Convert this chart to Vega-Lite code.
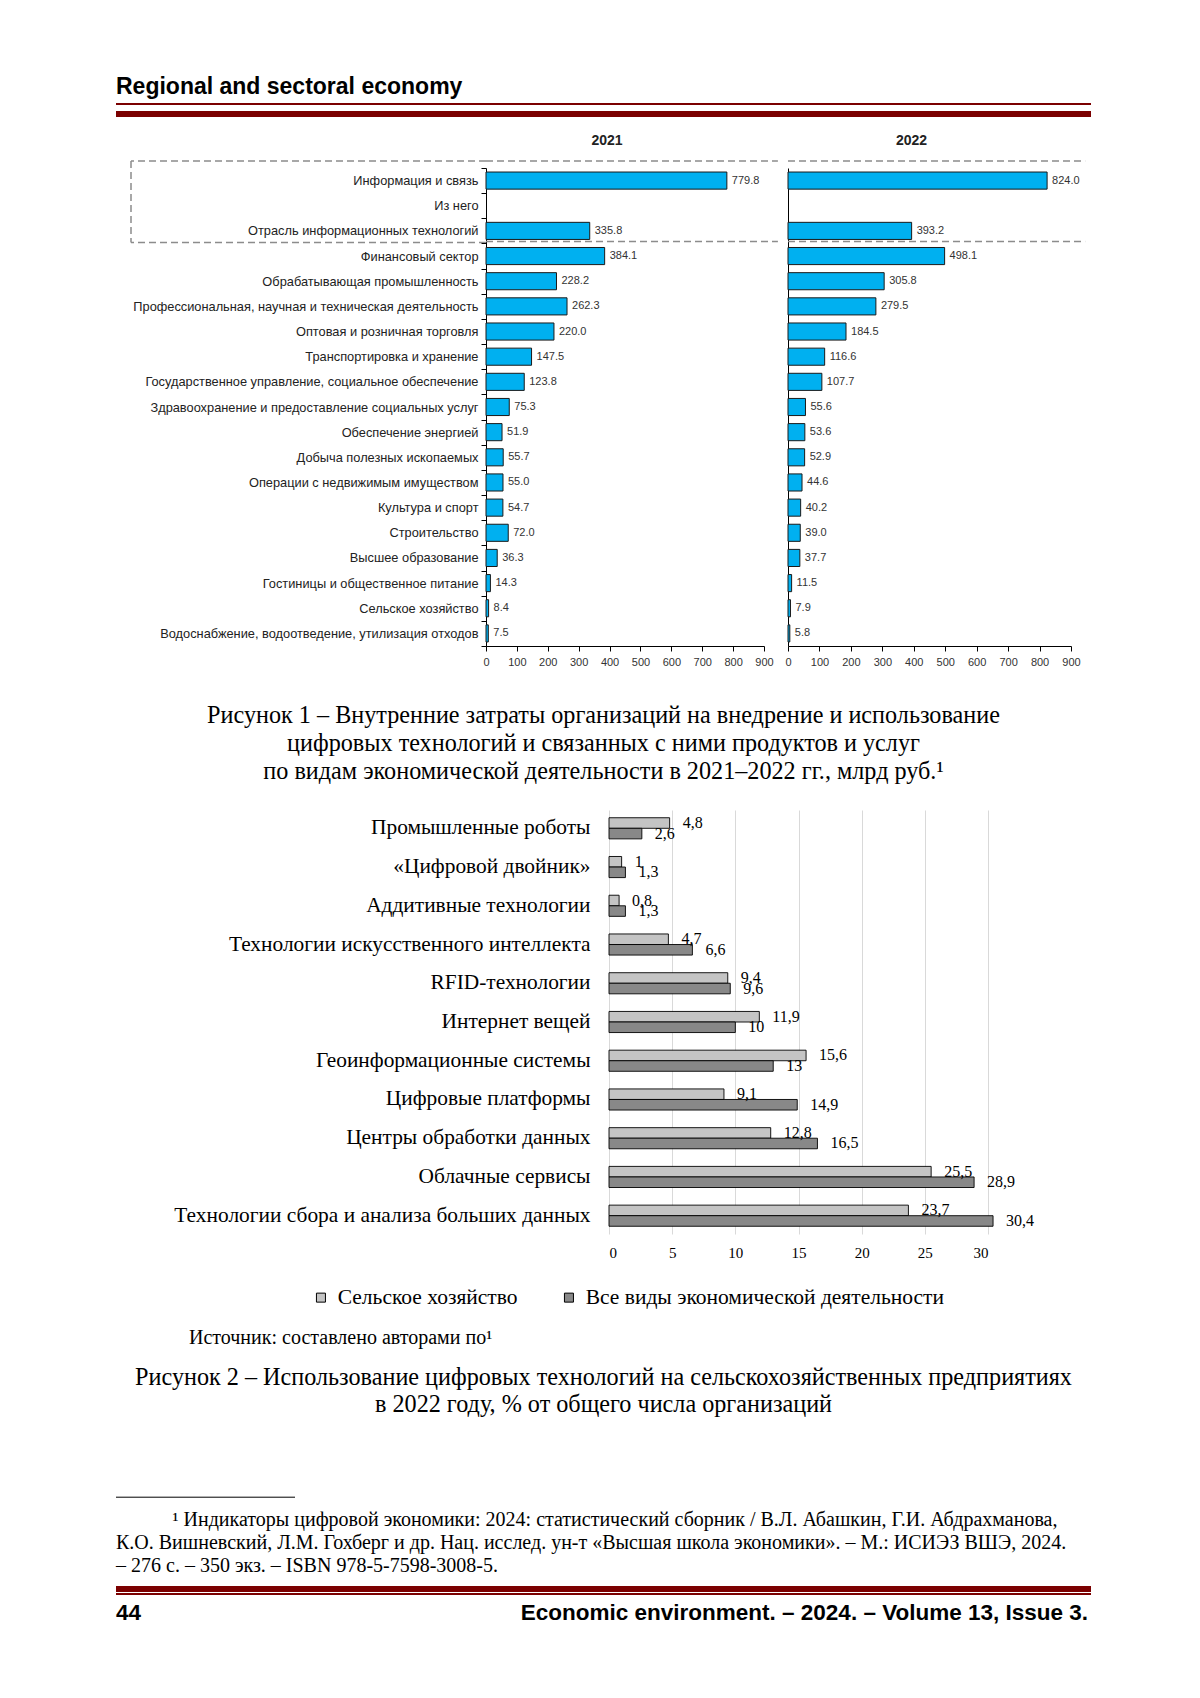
{
  "$schema": "https://vega.github.io/schema/vega-lite/v6.json",
  "padding": {"left": 113, "top": 76, "right": 112, "bottom": 20},
  "background": "white",
  "spacing": 0,
  "resolve": {"legend": {"fill": "independent", "strokeWidth": "independent"}, "scale": {"fill": "independent", "strokeWidth": "independent"}},
  "config": {"view": {"stroke": null}, "axis": {"labelOverlap": false}},
  "datasets": {
    "c1": [
      {"sector": "Информация и связь", "year": "2021", "value": 779.8},
      {"sector": "Информация и связь", "year": "2022", "value": 824.0},
      {"sector": "Отрасль информационных технологий", "year": "2021", "value": 335.8},
      {"sector": "Отрасль информационных технологий", "year": "2022", "value": 393.2},
      {"sector": "Финансовый сектор", "year": "2021", "value": 384.1},
      {"sector": "Финансовый сектор", "year": "2022", "value": 498.1},
      {"sector": "Обрабатывающая промышленность", "year": "2021", "value": 228.2},
      {"sector": "Обрабатывающая промышленность", "year": "2022", "value": 305.8},
      {"sector": "Профессиональная, научная и техническая деятельность", "year": "2021", "value": 262.3},
      {"sector": "Профессиональная, научная и техническая деятельность", "year": "2022", "value": 279.5},
      {"sector": "Оптовая и розничная торговля", "year": "2021", "value": 220.0},
      {"sector": "Оптовая и розничная торговля", "year": "2022", "value": 184.5},
      {"sector": "Транспортировка и хранение", "year": "2021", "value": 147.5},
      {"sector": "Транспортировка и хранение", "year": "2022", "value": 116.6},
      {"sector": "Государственное управление, социальное обеспечение", "year": "2021", "value": 123.8},
      {"sector": "Государственное управление, социальное обеспечение", "year": "2022", "value": 107.7},
      {"sector": "Здравоохранение и предоставление социальных услуг", "year": "2021", "value": 75.3},
      {"sector": "Здравоохранение и предоставление социальных услуг", "year": "2022", "value": 55.6},
      {"sector": "Обеспечение энергией", "year": "2021", "value": 51.9},
      {"sector": "Обеспечение энергией", "year": "2022", "value": 53.6},
      {"sector": "Добыча полезных ископаемых", "year": "2021", "value": 55.7},
      {"sector": "Добыча полезных ископаемых", "year": "2022", "value": 52.9},
      {"sector": "Операции с недвижимым имуществом", "year": "2021", "value": 55.0},
      {"sector": "Операции с недвижимым имуществом", "year": "2022", "value": 44.6},
      {"sector": "Культура и спорт", "year": "2021", "value": 54.7},
      {"sector": "Культура и спорт", "year": "2022", "value": 40.2},
      {"sector": "Строительство", "year": "2021", "value": 72.0},
      {"sector": "Строительство", "year": "2022", "value": 39.0},
      {"sector": "Высшее образование", "year": "2021", "value": 36.3},
      {"sector": "Высшее образование", "year": "2022", "value": 37.7},
      {"sector": "Гостиницы и общественное питание", "year": "2021", "value": 14.3},
      {"sector": "Гостиницы и общественное питание", "year": "2022", "value": 11.5},
      {"sector": "Сельское хозяйство", "year": "2021", "value": 8.4},
      {"sector": "Сельское хозяйство", "year": "2022", "value": 7.9},
      {"sector": "Водоснабжение, водоотведение, утилизация отходов", "year": "2021", "value": 7.5},
      {"sector": "Водоснабжение, водоотведение, утилизация отходов", "year": "2022", "value": 5.8}
    ],
    "c2": [
      {"tech": "Промышленные роботы", "group": "Сельское хозяйство", "v": 4.8},
      {"tech": "Промышленные роботы", "group": "Все виды экономической деятельности", "v": 2.6},
      {"tech": "«Цифровой двойник»", "group": "Сельское хозяйство", "v": 1},
      {"tech": "«Цифровой двойник»", "group": "Все виды экономической деятельности", "v": 1.3},
      {"tech": "Аддитивные технологии", "group": "Сельское хозяйство", "v": 0.8},
      {"tech": "Аддитивные технологии", "group": "Все виды экономической деятельности", "v": 1.3},
      {"tech": "Технологии искусственного интеллекта", "group": "Сельское хозяйство", "v": 4.7},
      {"tech": "Технологии искусственного интеллекта", "group": "Все виды экономической деятельности", "v": 6.6},
      {"tech": "RFID-технологии", "group": "Сельское хозяйство", "v": 9.4},
      {"tech": "RFID-технологии", "group": "Все виды экономической деятельности", "v": 9.6},
      {"tech": "Интернет вещей", "group": "Сельское хозяйство", "v": 11.9},
      {"tech": "Интернет вещей", "group": "Все виды экономической деятельности", "v": 10},
      {"tech": "Геоинформационные системы", "group": "Сельское хозяйство", "v": 15.6},
      {"tech": "Геоинформационные системы", "group": "Все виды экономической деятельности", "v": 13},
      {"tech": "Цифровые платформы", "group": "Сельское хозяйство", "v": 9.1},
      {"tech": "Цифровые платформы", "group": "Все виды экономической деятельности", "v": 14.9},
      {"tech": "Центры обработки данных", "group": "Сельское хозяйство", "v": 12.8},
      {"tech": "Центры обработки данных", "group": "Все виды экономической деятельности", "v": 16.5},
      {"tech": "Облачные сервисы", "group": "Сельское хозяйство", "v": 25.5},
      {"tech": "Облачные сервисы", "group": "Все виды экономической деятельности", "v": 28.9},
      {"tech": "Технологии сбора и анализа больших данных", "group": "Сельское хозяйство", "v": 23.7},
      {"tech": "Технологии сбора и анализа больших данных", "group": "Все виды экономической деятельности", "v": 30.4}
    ]
  },
  "vconcat": [
    {
      "width": 975, "height": 27,
      "data": {"values": [{"t": "Regional and sectoral economy"}]},
      "mark": {"type": "text", "align": "left", "baseline": "top", "font": "Liberation Sans", "fontWeight": "bold", "fontSize": 23, "color": "#000"},
      "encoding": {
        "text": {"field": "t"},
        "x": {"datum": 0, "type": "quantitative", "scale": {"domain": [0, 1]}, "axis": null},
        "y": {"datum": 1, "type": "quantitative", "scale": {"domain": [0, 1]}, "axis": null}
      }
    },
    {
      "width": 975, "height": 30,
      "data": {"values": [{"line": "thin"}, {"line": "thick"}]},
      "mark": {"type": "rule", "color": "#7b0000"},
      "encoding": {
        "y": {"field": "line", "type": "nominal", "scale": {"type": "point", "domain": ["thin", "thick"], "padding": 2.5, "align": 0}, "axis": null},
        "strokeWidth": {"field": "line", "type": "nominal", "scale": {"domain": ["thin", "thick"], "range": [2, 6]}, "legend": null}
      }
    },
    {
      "spacing": 0,
      "bounds": "flush",
      "hconcat": [
        {
          "width": 15, "height": 1,
          "data": {"values": []},
          "mark": "point",
          "encoding": {}
        },
        {
          "width": 355, "height": 535.5,
          "data": {"values": [{}]},
          "layer": [
            {
              "mark": {"type": "rule", "color": "#8c8c8c", "strokeDash": [7, 4], "strokeWidth": 1.5, "yOffset": -7},
              "encoding": {
                "y": {"datum": "Информация и связь", "type": "nominal", "bandPosition": 0,
                  "scale": {"type": "band", "domain": ["Информация и связь", "Из него", "Отрасль информационных технологий", "Финансовый сектор", "Обрабатывающая промышленность", "Профессиональная, научная и техническая деятельность", "Оптовая и розничная торговля", "Транспортировка и хранение", "Государственное управление, социальное обеспечение", "Здравоохранение и предоставление социальных услуг", "Обеспечение энергией", "Добыча полезных ископаемых", "Операции с недвижимым имуществом", "Культура и спорт", "Строительство", "Высшее образование", "Гостиницы и общественное питание", "Сельское хозяйство", "Водоснабжение, водоотведение, утилизация отходов"], "paddingInner": 0, "paddingOuter": 1.143, "align": 0},
                  "axis": null}
              }
            },
            {
              "mark": {"type": "rule", "color": "#8c8c8c", "strokeDash": [7, 4], "strokeWidth": 1.5, "yOffset": -2},
              "encoding": {
                "y": {"datum": "Финансовый сектор", "type": "nominal", "bandPosition": 0, "axis": null}
              }
            },
            {
              "mark": {"type": "rule", "color": "#8c8c8c", "strokeDash": [7, 4], "strokeWidth": 1.5, "yOffset": -7, "y2Offset": -2},
              "encoding": {
                "x": {"datum": 0, "type": "quantitative", "scale": {"domain": [0, 1]}, "axis": null},
                "y": {"datum": "Информация и связь", "type": "nominal", "bandPosition": 0, "axis": null},
                "y2": {"datum": "Финансовый сектор", "bandPosition": 0}
              }
            }
          ]
        },
        {
          "width": 278, "height": 478,
          "title": {"text": "2021", "font": "Liberation Sans", "fontSize": 14, "fontWeight": "bold", "color": "#222", "anchor": "middle", "dx": -18, "offset": 1, "baseline": "alphabetic"},
          "layer": [
            {
              "data": {"name": "c1"},
              "transform": [{"filter": "datum.year == '2021'"}],
              "mark": {"type": "bar", "fill": "#00b0f0", "stroke": "#1a1a1a", "strokeWidth": 1, "height": {"band": 0.68}},
              "encoding": {
                "y": {"field": "sector", "type": "nominal",
                  "scale": {"type": "band", "domain": ["Информация и связь", "Из него", "Отрасль информационных технологий", "Финансовый сектор", "Обрабатывающая промышленность", "Профессиональная, научная и техническая деятельность", "Оптовая и розничная торговля", "Транспортировка и хранение", "Государственное управление, социальное обеспечение", "Здравоохранение и предоставление социальных услуг", "Обеспечение энергией", "Добыча полезных ископаемых", "Операции с недвижимым имуществом", "Культура и спорт", "Строительство", "Высшее образование", "Гостиницы и общественное питание", "Сельское хозяйство", "Водоснабжение, водоотведение, утилизация отходов"], "paddingInner": 0, "paddingOuter": 0},
                  "axis": {"title": null, "labelFont": "Liberation Sans", "labelFontSize": 12.8, "labelColor": "#222", "tickBand": "extent", "tickSize": 5, "tickColor": "#000", "domainColor": "#000", "labelPadding": 3, "labelLimit": 500}},
                "x": {"field": "value", "type": "quantitative",
                  "scale": {"domain": [0, 900], "nice": false},
                  "axis": {"title": null, "values": [0, 100, 200, 300, 400, 500, 600, 700, 800, 900], "labelOverlap": false, "labelFlush": false, "grid": false, "tickSize": 5, "tickColor": "#000", "domainColor": "#000", "labelFont": "Liberation Sans", "labelFontSize": 11, "labelColor": "#333", "labelPadding": 5}}
              }
            },
            {
              "data": {"name": "c1"},
              "transform": [{"filter": "datum.year == '2021'"}],
              "mark": {"type": "text", "align": "left", "baseline": "middle", "dx": 5, "font": "Liberation Sans", "fontSize": 11, "color": "#333"},
              "encoding": {
                "y": {"field": "sector", "type": "nominal"},
                "x": {"field": "value", "type": "quantitative",
                  "axis": {"title": null, "values": [0, 100, 200, 300, 400, 500, 600, 700, 800, 900], "labelOverlap": false, "labelFlush": false, "grid": false, "tickSize": 5, "tickColor": "#000", "domainColor": "#000", "labelFont": "Liberation Sans", "labelFontSize": 11, "labelColor": "#333", "labelPadding": 5}},
                "text": {"field": "value", "type": "quantitative", "format": ".1f"}
              }
            },
            {
              "data": {"values": [{}]},
              "mark": {"type": "rule", "color": "#8c8c8c", "strokeDash": [7, 4], "strokeWidth": 1.5, "yOffset": -7},
              "encoding": {
                "y": {"datum": "Информация и связь", "type": "nominal", "bandPosition": 0},
                "x": {"datum": 0, "type": "quantitative",
                  "axis": {"title": null, "values": [0, 100, 200, 300, 400, 500, 600, 700, 800, 900], "labelOverlap": false, "labelFlush": false, "grid": false, "tickSize": 5, "tickColor": "#000", "domainColor": "#000", "labelFont": "Liberation Sans", "labelFontSize": 11, "labelColor": "#333", "labelPadding": 5}},
                "x2": {"datum": 945}
              }
            },
            {
              "data": {"values": [{}]},
              "mark": {"type": "rule", "color": "#8c8c8c", "strokeDash": [7, 4], "strokeWidth": 1.5, "yOffset": -2},
              "encoding": {
                "y": {"datum": "Финансовый сектор", "type": "nominal", "bandPosition": 0},
                "x": {"datum": 0, "type": "quantitative",
                  "axis": {"title": null, "values": [0, 100, 200, 300, 400, 500, 600, 700, 800, 900], "labelOverlap": false, "labelFlush": false, "grid": false, "tickSize": 5, "tickColor": "#000", "domainColor": "#000", "labelFont": "Liberation Sans", "labelFontSize": 11, "labelColor": "#333", "labelPadding": 5}},
                "x2": {"datum": 945}
              }
            }
          ]
        },
        {
          "width": 24, "height": 1,
          "data": {"values": []},
          "mark": "point",
          "encoding": {}
        },
        {
          "width": 283, "height": 478,
          "title": {"text": "2022", "font": "Liberation Sans", "fontSize": 14, "fontWeight": "bold", "color": "#222", "anchor": "middle", "dx": -18, "offset": 1, "baseline": "alphabetic"},
          "layer": [
            {
              "data": {"name": "c1"},
              "transform": [{"filter": "datum.year == '2022'"}],
              "mark": {"type": "bar", "fill": "#00b0f0", "stroke": "#1a1a1a", "strokeWidth": 1, "height": {"band": 0.68}},
              "encoding": {
                "y": {"field": "sector", "type": "nominal",
                  "scale": {"type": "band", "domain": ["Информация и связь", "Из него", "Отрасль информационных технологий", "Финансовый сектор", "Обрабатывающая промышленность", "Профессиональная, научная и техническая деятельность", "Оптовая и розничная торговля", "Транспортировка и хранение", "Государственное управление, социальное обеспечение", "Здравоохранение и предоставление социальных услуг", "Обеспечение энергией", "Добыча полезных ископаемых", "Операции с недвижимым имуществом", "Культура и спорт", "Строительство", "Высшее образование", "Гостиницы и общественное питание", "Сельское хозяйство", "Водоснабжение, водоотведение, утилизация отходов"], "paddingInner": 0, "paddingOuter": 0},
                  "axis": {"title": null, "labels": false, "ticks": false, "domainColor": "#000"}},
                "x": {"field": "value", "type": "quantitative",
                  "scale": {"domain": [0, 900], "nice": false},
                  "axis": {"title": null, "values": [0, 100, 200, 300, 400, 500, 600, 700, 800, 900], "labelOverlap": false, "labelFlush": false, "grid": false, "tickSize": 5, "tickColor": "#000", "domainColor": "#000", "labelFont": "Liberation Sans", "labelFontSize": 11, "labelColor": "#333", "labelPadding": 5}}
              }
            },
            {
              "data": {"name": "c1"},
              "transform": [{"filter": "datum.year == '2022'"}],
              "mark": {"type": "text", "align": "left", "baseline": "middle", "dx": 5, "font": "Liberation Sans", "fontSize": 11, "color": "#333"},
              "encoding": {
                "y": {"field": "sector", "type": "nominal", "axis": {"title": null, "labels": false, "ticks": false, "domainColor": "#000"}},
                "x": {"field": "value", "type": "quantitative",
                  "axis": {"title": null, "values": [0, 100, 200, 300, 400, 500, 600, 700, 800, 900], "labelOverlap": false, "labelFlush": false, "grid": false, "tickSize": 5, "tickColor": "#000", "domainColor": "#000", "labelFont": "Liberation Sans", "labelFontSize": 11, "labelColor": "#333", "labelPadding": 5}},
                "text": {"field": "value", "type": "quantitative", "format": ".1f"}
              }
            },
            {
              "data": {"values": [{}]},
              "mark": {"type": "rule", "color": "#8c8c8c", "strokeDash": [7, 4], "strokeWidth": 1.5, "yOffset": -7},
              "encoding": {
                "y": {"datum": "Информация и связь", "type": "nominal", "bandPosition": 0, "axis": {"title": null, "labels": false, "ticks": false, "domainColor": "#000"}},
                "x": {"datum": 0, "type": "quantitative",
                  "axis": {"title": null, "values": [0, 100, 200, 300, 400, 500, 600, 700, 800, 900], "labelOverlap": false, "labelFlush": false, "grid": false, "tickSize": 5, "tickColor": "#000", "domainColor": "#000", "labelFont": "Liberation Sans", "labelFontSize": 11, "labelColor": "#333", "labelPadding": 5}},
                "x2": {"datum": 945}
              }
            },
            {
              "data": {"values": [{}]},
              "mark": {"type": "rule", "color": "#8c8c8c", "strokeDash": [7, 4], "strokeWidth": 1.5, "yOffset": -2},
              "encoding": {
                "y": {"datum": "Финансовый сектор", "type": "nominal", "bandPosition": 0, "axis": {"title": null, "labels": false, "ticks": false, "domainColor": "#000"}},
                "x": {"datum": 0, "type": "quantitative",
                  "axis": {"title": null, "values": [0, 100, 200, 300, 400, 500, 600, 700, 800, 900], "labelOverlap": false, "labelFlush": false, "grid": false, "tickSize": 5, "tickColor": "#000", "domainColor": "#000", "labelFont": "Liberation Sans", "labelFontSize": 11, "labelColor": "#333", "labelPadding": 5}},
                "x2": {"datum": 945}
              }
            }
          ]
        }
      ]
    },
    {
      "width": 975, "height": 106,
      "data": {"values": [{"t": "Рисунок 1 – Внутренние затраты организаций на внедрение и использование\nцифровых технологий и связанных с ними продуктов и услуг\nпо видам экономической деятельности в 2021–2022 гг., млрд руб.¹"}]},
      "mark": {"type": "text", "align": "center", "baseline": "top", "font": "Liberation Serif", "fontSize": 24.2, "lineHeight": 28, "lineBreak": "\n", "color": "#000"},
      "encoding": {
        "text": {"field": "t"},
        "x": {"datum": 0.5, "type": "quantitative", "scale": {"domain": [0, 1]}, "axis": null},
        "y": {"datum": 1, "type": "quantitative", "scale": {"domain": [0, 1]}, "axis": null}
      }
    },
    {
      "spacing": 0,
      "bounds": "full",
      "hconcat": [
        {
          "width": 57, "height": 1,
          "data": {"values": []},
          "mark": "point",
          "encoding": {}
        },
        {
          "width": 379, "height": 424,
          "data": {"name": "c2"},
          "encoding": {
            "y": {"field": "tech", "type": "nominal",
              "scale": {"domain": ["Промышленные роботы", "«Цифровой двойник»", "Аддитивные технологии", "Технологии искусственного интеллекта", "RFID-технологии", "Интернет вещей", "Геоинформационные системы", "Цифровые платформы", "Центры обработки данных", "Облачные сервисы", "Технологии сбора и анализа больших данных"], "paddingInner": 0.455},
              "axis": {"title": null, "labelFont": "Liberation Serif", "labelFontSize": 21.4, "labelColor": "#000", "ticks": false, "domain": false, "labelPadding": 19, "labelLimit": 600}},
            "yOffset": {"field": "group", "type": "nominal", "scale": {"domain": ["Сельское хозяйство", "Все виды экономической деятельности"]}},
            "x": {"field": "v", "type": "quantitative",
              "scale": {"domain": [0, 30], "nice": false},
              "axis": {"title": null, "values": [0, 5, 10, 15, 20, 25, 30], "grid": true, "gridColor": "#d9d9d9", "ticks": false, "domain": false, "labelFont": "Liberation Serif", "labelFontSize": 15, "labelColor": "#000", "labelPadding": 11}}
          },
          "layer": [
            {
              "mark": {"type": "bar", "stroke": "#000", "strokeWidth": 0.9},
              "encoding": {
                "fill": {"field": "group", "type": "nominal",
                  "scale": {"domain": ["Сельское хозяйство", "Все виды экономической деятельности"], "range": ["#c4c4c4", "#888888"]},
                  "legend": {"orient": "none", "legendX": 175.5, "legendY": 457.8, "direction": "horizontal", "title": null, "symbolType": "square", "symbolSize": 81, "symbolStrokeColor": "#000", "symbolStrokeWidth": 1, "labelFont": "Liberation Serif", "labelFontSize": 21.5, "labelColor": "#000", "columnPadding": 40, "labelOffset": 6, "padding": 18.7, "labelLimit": 600}}
              }
            },
            {
              "transform": [{"calculate": "replace(format(datum.v, '.3~g'), '.', ',')", "as": "lab"}],
              "mark": {"type": "text", "align": "left", "baseline": "middle", "dx": 13, "font": "Liberation Serif", "fontSize": 16, "color": "#000"},
              "encoding": {"text": {"field": "lab", "type": "nominal"}}
            }
          ]
        }
      ]
    },
    {
      "width": 975, "height": 37.8,
      "data": {"values": [{"t": "Источник: составлено авторами по¹"}]},
      "mark": {"type": "text", "align": "left", "baseline": "top", "font": "Liberation Serif", "fontSize": 20, "color": "#000"},
      "encoding": {
        "text": {"field": "t"},
        "x": {"datum": 0.0749, "type": "quantitative", "scale": {"domain": [0, 1]}, "axis": null},
        "y": {"datum": 1, "type": "quantitative", "scale": {"domain": [0, 1]}, "axis": null}
      }
    },
    {
      "width": 975, "height": 118.8,
      "data": {"values": [{"t": "Рисунок 2 – Использование цифровых технологий на сельскохозяйственных предприятиях\nв 2022 году, % от общего числа организаций"}]},
      "mark": {"type": "text", "align": "center", "baseline": "top", "font": "Liberation Serif", "fontSize": 24.2, "lineHeight": 27, "lineBreak": "\n", "color": "#000"},
      "encoding": {
        "text": {"field": "t"},
        "x": {"datum": 0.5, "type": "quantitative", "scale": {"domain": [0, 1]}, "axis": null},
        "y": {"datum": 1, "type": "quantitative", "scale": {"domain": [0, 1]}, "axis": null}
      }
    },
    {
      "width": 975, "height": 24.4,
      "data": {"values": [{}]},
      "mark": {"type": "rule", "color": "#000", "strokeWidth": 1},
      "encoding": {
        "x": {"datum": 0, "type": "quantitative", "scale": {"domain": [0, 1]}, "axis": null},
        "x2": {"datum": 0.1836}
      }
    },
    {
      "width": 975, "height": 76,
      "data": {"values": [
        {"n": 1, "t": "¹ Индикаторы цифровой экономики: 2024: статистический сборник / В.Л. Абашкин, Г.И. Абдрахманова,"},
        {"n": 2, "t": "К.О. Вишневский, Л.М. Гохберг и др. Нац. исслед. ун-т «Высшая школа экономики». – М.: ИСИЭЗ ВШЭ, 2024."},
        {"n": 3, "t": "– 276 с. – 350 экз. – ISBN 978-5-7598-3008-5."}
      ]},
      "encoding": {
        "y": {"field": "n", "type": "ordinal", "scale": {"type": "point", "domain": [1, 2, 3], "padding": 0.652, "align": 0}, "axis": null},
        "text": {"field": "t"}
      },
      "layer": [
        {
          "transform": [{"filter": "datum.n == 1"}],
          "mark": {"type": "text", "align": "left", "baseline": "top", "font": "Liberation Serif", "fontSize": 20, "color": "#000", "limit": 918},
          "encoding": {"x": {"datum": 0.058, "type": "quantitative", "scale": {"domain": [0, 1]}, "axis": null}}
        },
        {
          "transform": [{"filter": "datum.n > 1"}],
          "mark": {"type": "text", "align": "left", "baseline": "top", "font": "Liberation Serif", "fontSize": 20, "color": "#000", "limit": 975},
          "encoding": {"x": {"datum": 0, "type": "quantitative"}}
        }
      ]
    },
    {
      "width": 975, "height": 12.6,
      "data": {"values": [{"line": "thick"}, {"line": "thin"}]},
      "mark": {"type": "rule", "color": "#7b0000"},
      "encoding": {
        "y": {"field": "line", "type": "nominal", "scale": {"type": "point", "domain": ["thick", "thin"], "padding": 0.76, "align": 0}, "axis": null},
        "strokeWidth": {"field": "line", "type": "nominal", "scale": {"domain": ["thick", "thin"], "range": [6, 2]}, "legend": null}
      }
    },
    {
      "width": 975, "height": 25,
      "layer": [
        {
          "data": {"values": [{"t": "44"}]},
          "mark": {"type": "text", "align": "left", "baseline": "top", "font": "Liberation Sans", "fontWeight": "bold", "fontSize": 22.5, "color": "#000"},
          "encoding": {
            "text": {"field": "t"},
            "x": {"datum": 0, "type": "quantitative", "scale": {"domain": [0, 1]}, "axis": null},
            "y": {"datum": 1, "type": "quantitative", "scale": {"domain": [0, 1]}, "axis": null}
          }
        },
        {
          "data": {"values": [{"t": "Economic environment. – 2024. – Volume 13, Issue 3."}]},
          "mark": {"type": "text", "align": "right", "baseline": "top", "font": "Liberation Sans", "fontWeight": "bold", "fontSize": 22.5, "color": "#000"},
          "encoding": {
            "text": {"field": "t"},
            "x": {"datum": 0.997, "type": "quantitative"},
            "y": {"datum": 1, "type": "quantitative"}
          }
        }
      ]
    }
  ]
}
